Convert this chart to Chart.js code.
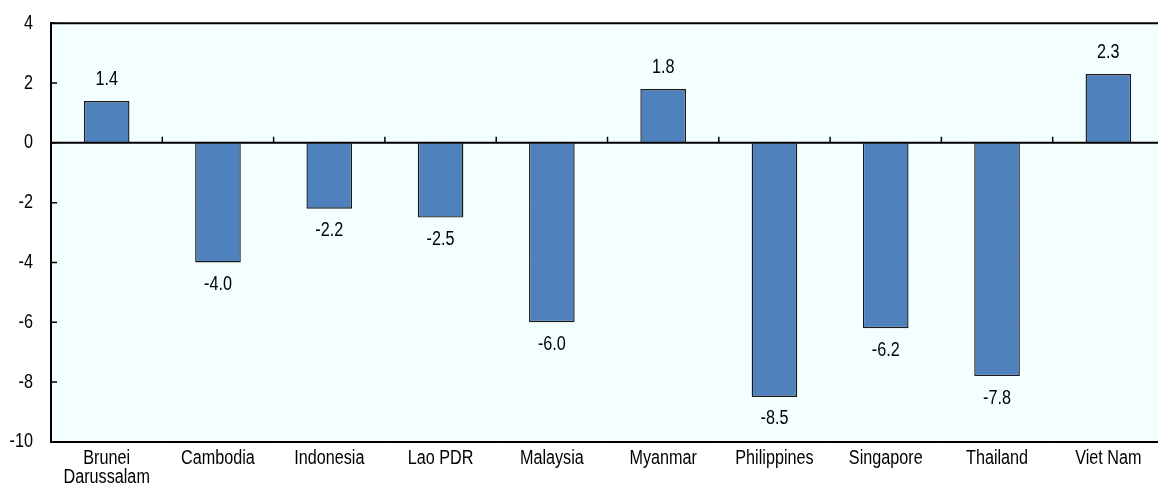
<!DOCTYPE html>
<html>
<head>
<meta charset="utf-8">
<script src="https://cdn.jsdelivr.net/npm/chart.js@4/dist/chart.umd.min.js"></script>
<style>
  html, body { margin: 0; padding: 0; background: #fff; overflow: hidden; }
  #wrap { width: 1164px; height: 491px; }
</style>
</head>
<body>
<div id="wrap"><canvas id="chart" width="1164" height="491"></canvas></div>
<script>
const countries = [['Brunei', 'Darussalam'], 'Cambodia', 'Indonesia', 'Lao PDR', 'Malaysia',
  'Myanmar', 'Philippines', 'Singapore', 'Thailand', 'Viet Nam'];
const growth = [1.4, -4.0, -2.2, -2.5, -6.0, 1.8, -8.5, -6.2, -7.8, 2.3];
const yMin = -10;
const yMax = 4;
const yStep = 2;

const FONT = "'Liberation Sans', Arial, sans-serif";
const NARROW = 0.81; // reference uses a narrow face, squeeze the regular one

function narrowText(ctx, text, x, y, align) {
    ctx.save();
    ctx.translate(x, y);
    ctx.scale(NARROW, 1);
    ctx.textAlign = align;
    ctx.fillText(text, 0, 0);
    ctx.restore();
}

// background, zero line, small ticks, top border and all text
const decor = {
    id: 'decor',
    beforeDraw(chart) {
        const { ctx, chartArea: a } = chart;
        ctx.save();
        ctx.fillStyle = '#f3fefe';
        ctx.fillRect(a.left, a.top, a.right - a.left, a.bottom - a.top);
        ctx.restore();
    },
    afterDatasetsDraw(chart) {
        const { ctx, chartArea: a, scales } = chart;
        const x = scales.x, y = scales.y;
        const y0 = y.getPixelForValue(0);
        ctx.save();
        ctx.strokeStyle = '#000';
        ctx.lineWidth = 2;
        ctx.beginPath();
        ctx.moveTo(a.left, y0); ctx.lineTo(a.right, y0);
        ctx.moveTo(a.left, a.top); ctx.lineTo(a.right, a.top);
        ctx.stroke();
        ctx.lineWidth = 1.5;
        ctx.beginPath();
        for (let i = 1; i < countries.length; i++) {
            const px = (x.getPixelForValue(i - 1) + x.getPixelForValue(i)) / 2;
            ctx.moveTo(px, y0); ctx.lineTo(px, y0 - 6);
        }
        for (let v = yMin; v <= yMax; v += yStep) {
            const py = y.getPixelForValue(v);
            ctx.moveTo(a.left, py); ctx.lineTo(a.left + 6, py);
        }
        ctx.stroke();

        ctx.fillStyle = '#000';
        ctx.font = '20px ' + FONT;
        ctx.textBaseline = 'middle';
        // value labels
        chart.getDatasetMeta(0).data.forEach((bar, i) => {
            const v = growth[i];
            const off = v >= 0 ? -22 : 22;
            narrowText(ctx, v.toFixed(1), bar.x, bar.y + off, 'center');
        });
        // category labels
        countries.forEach((c, i) => {
            const lines = Array.isArray(c) ? c : [c];
            const px = x.getPixelForValue(i);
            lines.forEach((t, j) => narrowText(ctx, t, px, a.bottom + 17 + j * 19, 'center'));
        });
        // y tick labels
        for (let v = yMin; v <= yMax; v += yStep) {
            narrowText(ctx, String(v), a.left - 18, y.getPixelForValue(v), 'right');
        }
        ctx.restore();
    }
};

new Chart(document.getElementById('chart'), {
    type: 'bar',
    data: {
        labels: countries,
        datasets: [{
            data: growth,
            backgroundColor: '#4f81bd',
            borderColor: '#1a1a1a',
            borderWidth: 1.4,
            barPercentage: 0.41,
            categoryPercentage: 1
        }]
    },
    options: {
        responsive: false,
        animation: false,
        layout: { padding: { top: 9, right: 0, left: 0, bottom: 0 } },
        plugins: { legend: { display: false }, tooltip: { enabled: false } },
        scales: {
            x: {
                grid: { offset: true, color: '#ffffff', lineWidth: 1, drawTicks: false },
                border: { display: true, color: '#000', width: 2 },
                ticks: { color: 'transparent', font: { family: FONT, size: 18 }, padding: 3, maxRotation: 0, autoSkip: false }
            },
            y: {
                min: yMin,
                max: yMax,
                ticks: { stepSize: yStep, color: 'transparent', font: { family: FONT, size: 18 }, padding: 12.5 },
                grid: { color: '#ffffff', lineWidth: 1, drawTicks: false },
                border: { display: true, color: '#000', width: 2 }
            }
        }
    },
    plugins: [decor]
});
</script>
</body>
</html>
